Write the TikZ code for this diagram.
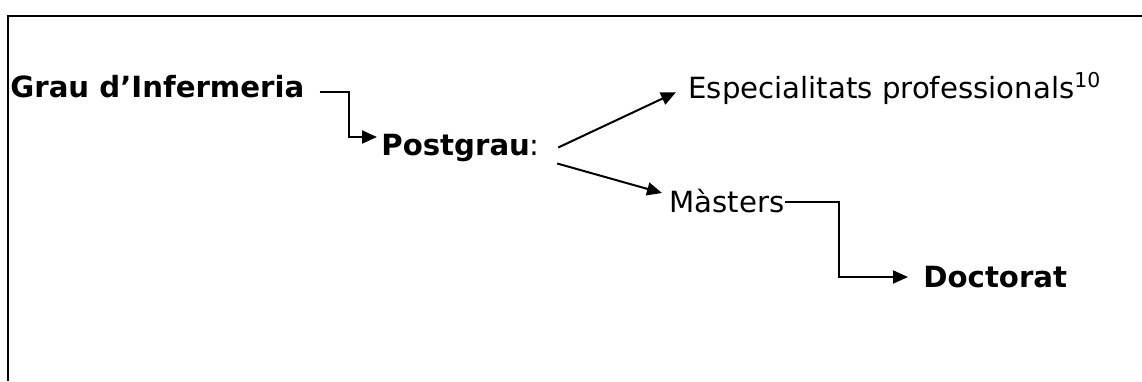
\documentclass[tikz,border=0pt]{standalone}
\usepackage{fontspec}
\setmainfont{DejaVu Sans}
\usetikzlibrary{arrows.meta}

\begin{document}
\begin{tikzpicture}[x=0.5pt,y=-0.5pt,font=\fontsize{14.6}{17}\selectfont,
lbl/.style={inner sep=0pt,anchor=base west},
conn/.style={line width=1pt,-{Triangle[length=7.5pt,width=6.5pt]}}]

\useasboundingbox(0,0)rectangle(1142,381);
\draw[line width=1pt](8,381)--(8,16)--(1142,16);

\node[lbl](grau)at(10,97){\textbf{Grau d’Infermeria}};
\node[lbl](post)at(381,155){\textbf{Postgrau}:};
\node[lbl](esp)at(688,98){Especialitats professionals\textsuperscript{10}};
\node[lbl](mast)at(669,212){Màsters};
\node[lbl](doc)at(923,287){\textbf{Doctorat}};

\draw[conn]([xshift=7.5pt,yshift=2.5pt]grau.base east)--++(14.5pt,0)|-([xshift=-2pt,yshift=9pt]post.base west);
\draw[conn]([xshift=9pt]post.east)--([xshift=-6pt,yshift=-2pt]esp.west);
\draw[conn]([xshift=8.5pt,yshift=-8pt]post.east)--([xshift=-3.5pt,yshift=9.5pt]mast.base west);
\draw[conn]([yshift=5pt]mast.base east)--++(27pt,0)|-([xshift=-7.5pt,yshift=5pt]doc.base west);

\end{tikzpicture}
\end{document}
